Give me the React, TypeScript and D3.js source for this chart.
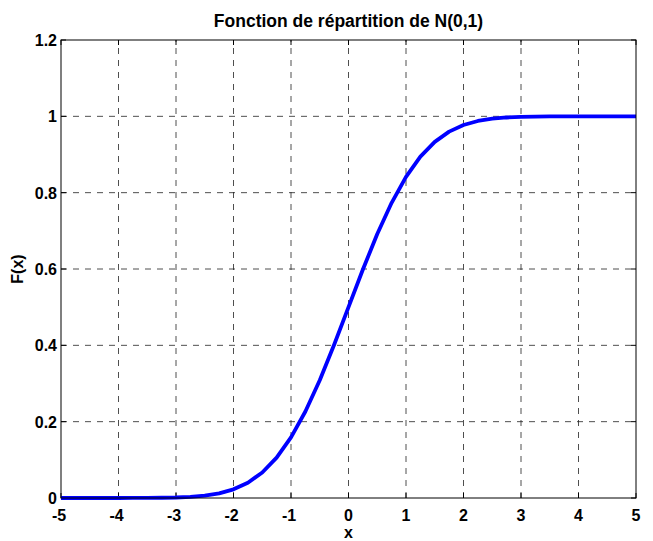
import React from 'react';
import * as d3 from 'd3';

const xs = [
  -5, -4.75, -4.5, -4.25, -4, -3.75, -3.5, -3.25, -3, -2.75, -2.5, -2.25, -2, -1.75, -1.5, -1.25,
  -1, -0.75, -0.5, -0.25, 0, 0.25, 0.5, 0.75, 1, 1.25, 1.5, 1.75, 2, 2.25, 2.5, 2.75, 3, 3.25,
  3.5, 3.75, 4, 4.25, 4.5, 4.75, 5,
];
const Fx = [
  0, 0, 0, 0, 0, 0.0001, 0.0002, 0.0006, 0.0013, 0.003, 0.0062, 0.0122, 0.0228, 0.0401, 0.0668,
  0.1056, 0.1587, 0.2266, 0.3085, 0.4013, 0.5, 0.5987, 0.6915, 0.7734, 0.8413, 0.8944, 0.9332,
  0.9599, 0.9772, 0.9878, 0.9938, 0.997, 0.9987, 0.9994, 0.9998, 0.9999, 1, 1, 1, 1, 1,
];
const xTicks = [-5, -4, -3, -2, -1, 0, 1, 2, 3, 4, 5];
const yTicks = [0, 0.2, 0.4, 0.6, 0.8, 1, 1.2];

const title = 'Fonction de répartition de N(0,1)';
const xLabel = 'x';
const yLabel = 'F(x)';

export default function App() {
  const width = 653;
  const height = 541;
  const m = { left: 61, right: 17, top: 40, bottom: 43 };

  const x = d3.scaleLinear().domain([-5, 5]).range([m.left, width - m.right]);
  const y = d3.scaleLinear().domain([0, 1.2]).range([height - m.bottom, m.top]);

  const line = d3.line<number>()
    .x((d, i) => x(xs[i]))
    .y(d => y(d));

  const font = "'Liberation Sans', Arial, Helvetica, sans-serif";
  const x0 = x(-5), x1 = x(5), y0 = y(0), y1 = y(1.2);

  return (
    <div style={{ position: 'fixed', left: 0, top: 0 }}>
      <svg width={width} height={height} style={{ display: 'block', background: '#fff' }}>
        {/* grid */}
        <g stroke="#222" strokeWidth={0.8} strokeDasharray="6,6" fill="none">
          {xTicks.slice(1, -1).map(t => (
            <line key={'gx' + t} x1={x(t)} x2={x(t)} y1={y0} y2={y1} />
          ))}
          {yTicks.slice(1, -1).map(t => (
            <line key={'gy' + t} x1={x0} x2={x1} y1={y(t)} y2={y(t)} />
          ))}
        </g>

        {/* inward ticks */}
        <g stroke="#000" strokeWidth={1}>
          {xTicks.map(t => (
            <g key={'tx' + t}>
              <line x1={x(t)} x2={x(t)} y1={y0} y2={y0 - 5} />
              <line x1={x(t)} x2={x(t)} y1={y1} y2={y1 + 5} />
            </g>
          ))}
          {yTicks.map(t => (
            <g key={'ty' + t}>
              <line x1={x0} x2={x0 + 5} y1={y(t)} y2={y(t)} />
              <line x1={x1} x2={x1 - 5} y1={y(t)} y2={y(t)} />
            </g>
          ))}
        </g>

        {/* curve */}
        <path d={line(Fx) || ''} fill="none" stroke="#0000ff" strokeWidth={3.8} strokeLinejoin="round" />

        {/* box */}
        <rect x={x0} y={y1} width={x1 - x0} height={y0 - y1} fill="none" stroke="#000" strokeWidth={1} />

        {/* tick labels */}
        <g fontFamily={font} fontWeight="bold" fontSize={16} fill="#000">
          {xTicks.map(t => (
            <text key={'lx' + t} x={x(t) - (t < 0 ? 2 : 0)} y={y0 + 23} textAnchor="middle">{t}</text>
          ))}
          {yTicks.map(t => (
            <text key={'ly' + t} x={x0 - 4} y={y(t) + 6} textAnchor="end">{t}</text>
          ))}
        </g>

        {/* title and axis labels */}
        <text x={(x0 + x1) / 2} y={27} textAnchor="middle" fontFamily={font} fontWeight="bold" fontSize={17.5}>
          {title}
        </text>
        <text x={(x0 + x1) / 2} y={538} textAnchor="middle" fontFamily={font} fontWeight="bold" fontSize={16}>
          {xLabel}
        </text>
        <text
          transform={`translate(23,${(y0 + y1) / 2}) rotate(-90)`}
          textAnchor="middle"
          fontFamily={font}
          fontWeight="bold"
          fontSize={16}
        >
          {yLabel}
        </text>
      </svg>
    </div>
  );
}
